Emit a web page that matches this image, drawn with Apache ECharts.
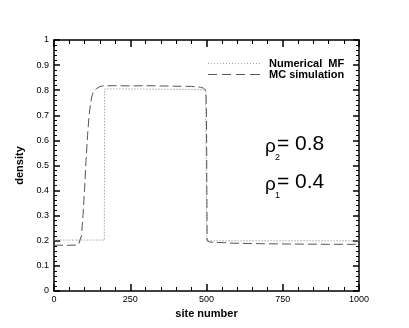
<!DOCTYPE html>
<html>
<head>
    <meta charset="UTF-8">
    <title>density profile</title>
    <script src="https://cdn.jsdelivr.net/npm/echarts@6/dist/echarts.min.js"></script>
    <style>
        body { margin: 0; background: #fff; }
    </style>
</head>
<body>
    <div id="main" style="width:409px; height:328px;"></div>
    <script>
        // site number / density
        var mfSites = [0, 165, 166, 250, 350, 450, 490, 497, 500, 501, 600, 800, 1000];
        var mfDensity = [0.203, 0.203, 0.805, 0.805, 0.804, 0.803, 0.801, 0.797, 0.79, 0.2, 0.2, 0.2, 0.2];

        var mcSites = [0, 40, 80, 86, 90, 95, 100, 105, 110, 115, 120, 125, 130, 140, 150, 160, 200, 250, 300, 350, 400, 450, 480, 490, 498, 500, 502, 510, 600, 700, 800, 900, 1000];
        var mcDensity = [0.183, 0.182, 0.183, 0.19, 0.22, 0.3, 0.4, 0.52, 0.62, 0.7, 0.75, 0.78, 0.795, 0.807, 0.814, 0.817, 0.818, 0.817, 0.818, 0.817, 0.816, 0.815, 0.812, 0.808, 0.8, 0.7, 0.2, 0.195, 0.19, 0.188, 0.187, 0.186, 0.186];

        var seriesNames = ['Numerical  MF', 'MC simulation'];

        function pairs(xs, ys) {
            var out = [];
            for (var i = 0; i < xs.length; ++i) {
                out.push([xs[i], ys[i]]);
            }
            return out;
        }

        var chart = echarts.init(document.getElementById('main'), null, {renderer: 'canvas'});

        var tickFont = {fontFamily: 'Liberation Sans', fontSize: 9, color: '#000'};
        var axisLine = {show: true, onZero: false, lineStyle: {color: '#000', width: 1.5}};

        function xAxis(pos, labels) {
            return {
                type: 'value', position: pos, min: 0, max: 1000, interval: 250,
                axisLine: axisLine,
                axisTick: {show: true, inside: true, length: 7, lineStyle: {color: '#000', width: 1.5}},
                minorTick: {show: true, splitNumber: 5, length: 4, lineStyle: {color: '#000', width: 1}},
                axisLabel: labels ? Object.assign({
                    show: true, margin: 4,
                    formatter: function (v) { return String(v); }
                }, tickFont) : {show: false},
                splitLine: {show: false},
                name: labels ? 'site number' : '',
                nameLocation: 'middle', nameGap: 17,
                nameTextStyle: {fontFamily: 'Liberation Sans', fontSize: 11, fontWeight: 'bold', color: '#000'}
            };
        }

        function yAxis(pos, labels) {
            return {
                type: 'value', position: pos, min: 0, max: 1, interval: 0.1,
                axisLine: axisLine,
                axisTick: {show: true, inside: true, length: 6, lineStyle: {color: '#000', width: 1.5}},
                minorTick: {show: true, splitNumber: 5, length: 3, lineStyle: {color: '#000', width: 1}},
                axisLabel: labels ? Object.assign({show: true, margin: 5}, tickFont) : {show: false},
                splitLine: {show: false},
                name: labels ? 'density' : '',
                nameLocation: 'middle', nameGap: 29,
                nameTextStyle: {fontFamily: 'Liberation Sans', fontSize: 11, fontWeight: 'bold', color: '#000'}
            };
        }

        // legend samples drawn as filled paths (plain line icons come with a symbol dot)
        var dottedIcon = 'path://M0,0h1v1h-1zM3,0h1v1h-1zM6,0h1v1h-1zM9,0h1v1h-1zM12,0h1v1h-1zM15,0h1v1h-1zM18,0h1v1h-1zM21,0h1v1h-1zM24,0h1v1h-1zM27,0h1v1h-1zM30,0h1v1h-1zM33,0h1v1h-1zM36,0h1v1h-1zM39,0h1v1h-1zM42,0h1v1h-1zM45,0h1v1h-1zM48,0h1v1h-1zM51,0h1v1h-1z';
        var dashedIcon = 'path://M0,0h9v1h-9zM14,0h9v1h-9zM28,0h9v1h-9zM42,0h10v1h-10z';

        var option = {
            backgroundColor: '#fff',
            animation: false,
            grid: {left: 54, right: 50, top: 40, bottom: 37, containLabel: false},
            xAxis: [xAxis('bottom', true), xAxis('top', false)],
            yAxis: [yAxis('left', true), yAxis('right', false)],
            legend: {
                data: [
                    {name: seriesNames[0], icon: dottedIcon},
                    {name: seriesNames[1], icon: dashedIcon}
                ],
                orient: 'vertical',
                left: 208, top: 58, padding: 0,
                itemWidth: 52, itemHeight: 1.2, itemGap: 0,
                textStyle: {fontFamily: 'Liberation Sans', fontSize: 11, fontWeight: 'bold', color: '#000', lineHeight: 11, padding: [0, 0, 0, 4]}
            },
            series: [
                {
                    name: seriesNames[0], type: 'line', symbol: 'none',
                    data: pairs(mfSites, mfDensity),
                    lineStyle: {color: '#a8a8a8', width: 1, type: [1.5, 1.5]},
                    itemStyle: {color: '#a8a8a8'}
                },
                {
                    name: seriesNames[1], type: 'line', symbol: 'none',
                    data: pairs(mcSites, mcDensity),
                    lineStyle: {color: '#555', width: 1, type: [9, 4]},
                    itemStyle: {color: '#555'}
                }
            ],
            graphic: [
                {type: 'text', left: 265, top: 137, style: {text: 'ρ', font: '19px "Liberation Sans"', fill: '#000'}},
                {type: 'text', left: 275, top: 153, style: {text: '2', font: '9px "Liberation Sans"', fill: '#000'}},
                {type: 'text', left: 277, top: 134, style: {text: '= 0.8', font: '21px "Liberation Sans"', fill: '#000'}},
                {type: 'text', left: 265, top: 175, style: {text: 'ρ', font: '19px "Liberation Sans"', fill: '#000'}},
                {type: 'text', left: 275, top: 191, style: {text: '1', font: '9px "Liberation Sans"', fill: '#000'}},
                {type: 'text', left: 277, top: 172, style: {text: '= 0.4', font: '21px "Liberation Sans"', fill: '#000'}}
            ]
        };

        chart.setOption(option);
    </script>
</body>
</html>
